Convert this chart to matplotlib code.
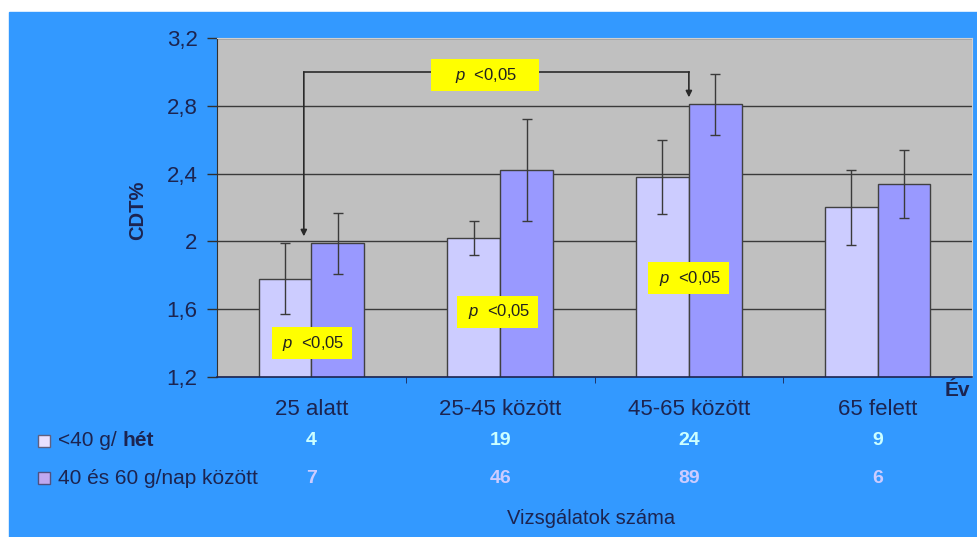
import numpy as np
import matplotlib.pyplot as plt
from matplotlib.patches import Rectangle

plt.rcParams['font.family'] = ['Liberation Sans', 'DejaVu Sans']
plt.rcParams['mathtext.fontset'] = 'custom'
plt.rcParams['mathtext.it'] = 'Liberation Sans:italic'
plt.rcParams['mathtext.rm'] = 'Liberation Sans'

# Data
categories = ['25 alatt', '25-45 között', '45-65 között', '65 felett']
series_names = ['<40 g/ ', '40 és 60 g/nap között']
low_mean = [1.78, 2.02, 2.38, 2.20]
low_err = [0.21, 0.10, 0.22, 0.22]
high_mean = [1.99, 2.42, 2.81, 2.34]
high_err = [0.18, 0.30, 0.18, 0.20]
low_count = [4, 19, 24, 9]
high_count = [7, 46, 89, 6]
yticks = [1.2, 1.6, 2.0, 2.4, 2.8, 3.2]
ytick_labels = ['1,2', '1,6', '2', '2,4', '2,8', '3,2']

bg_blue = '#3399FF'
navy = '#1C2450'
light_bar = '#CCCCFF'
dark_bar = '#9999FF'

fig = plt.figure(figsize=(9.77, 5.37), dpi=100, facecolor='white')
fig.patches.append(Rectangle((9 / 977, 0), 1 - 9 / 977, 525 / 537,
                             transform=fig.transFigure, color=bg_blue, zorder=-5))

ax = fig.add_axes([217 / 977, 160 / 537, 755 / 977, 339 / 537])
ax.set_zorder(2)
ax.set_facecolor('#C0C0C0')

x = np.arange(len(categories))
w = 0.28
err_kw = dict(ecolor='#3A3A3A', elinewidth=1, capsize=3.5, capthick=1)
ax.bar(x - 0.14, low_mean, w, yerr=low_err, color=light_bar, edgecolor='#404040',
       linewidth=1, error_kw=err_kw, zorder=2)
ax.bar(x + 0.14, high_mean, w, yerr=high_err, color=dark_bar, edgecolor='#404040',
       linewidth=1, error_kw=err_kw, zorder=2)

ax.set_xlim(-0.5, 3.5)
ax.set_ylim(1.2, 3.2)
ax.set_yticks(yticks)
ax.set_yticklabels(ytick_labels, fontsize=16, color=navy)
ax.yaxis.grid(True, color='#3A3A3A', linewidth=1)
ax.set_axisbelow(True)
ax.tick_params(axis='y', direction='out', length=7, width=1, color='#303030', pad=7)
ax.set_xticks([])
ax.set_xticks([0.5, 1.5, 2.5], minor=True)
ax.tick_params(axis='x', which='minor', direction='out', length=4, color=navy)
for s in ['top', 'right']:
    ax.spines[s].set_color('#D0D0D0')
ax.spines['left'].set_color('#303030')
ax.spines['bottom'].set_color(navy)
ax.spines['bottom'].set_linewidth(1.2)

# category labels and counts below the axis
tr = ax.get_xaxis_transform()
for i, c in enumerate(categories):
    ax.text(x[i], -0.097, c, transform=tr, ha='center', va='center',
            fontsize=16, color=navy, clip_on=False)
    ax.text(x[i], -0.186, str(low_count[i]), transform=tr, ha='center', va='center',
            fontsize=14, fontweight='bold', color='#CCFFFF', clip_on=False)
    ax.text(x[i], -0.298, str(high_count[i]), transform=tr, ha='center', va='center',
            fontsize=14, fontweight='bold', color='#CCCCFF', clip_on=False)
ax.text(1.48, -0.416, 'Vizsgálatok száma', transform=tr, ha='center', va='center',
        fontsize=14.5, color=navy, clip_on=False)

fig.text(957 / 977, 1 - 390 / 537, 'Év', ha='center', va='center',
         fontsize=15, fontweight='bold', color=navy)
fig.text(138 / 977, 1 - 210 / 537, 'CDT%', ha='center', va='center', rotation=90,
         fontsize=14.5, fontweight='bold', color=navy)

# legend rows
for yy, col, edge in [(441, '#E8E0FF', '#606080'), (478, '#C0A8F0', '#505080')]:
    fig.patches.append(Rectangle((38 / 977, 1 - (yy + 6) / 537), 12 / 977, 12 / 537,
                                 transform=fig.transFigure, facecolor=col,
                                 edgecolor=edge, linewidth=1, zorder=3))
t1 = fig.text(58 / 977, 1 - 441 / 537, series_names[0], ha='left', va='center',
              fontsize=15, color=navy)
fig.canvas.draw()
bb = t1.get_window_extent()
fig.text(bb.x1 / 977, 1 - 441 / 537, 'hét', ha='left', va='center',
         fontsize=15, fontweight='bold', color=navy)
fig.text(58 / 977, 1 - 478 / 537, series_names[1], ha='left', va='center',
         fontsize=15, color=navy)

# significance bracket
ln = '#2A2A2A'
ax.plot([-0.04, 2.0], [3.0, 3.0], color=ln, lw=1.2, zorder=4)
ax.annotate('', xy=(-0.04, 2.03), xytext=(-0.04, 3.0),
            arrowprops=dict(arrowstyle='-|>', color=ln, lw=1.2,
                            mutation_scale=9, shrinkA=0, shrinkB=0), zorder=4)
ax.annotate('', xy=(2.0, 2.85), xytext=(2.0, 3.0),
            arrowprops=dict(arrowstyle='-|>', color=ln, lw=1.2,
                            mutation_scale=9, shrinkA=0, shrinkB=0), zorder=4)

box = dict(boxstyle='square,pad=0.4', fc='#FFFF00', ec='none')
ax.text(0.918, 2.98, '    $p$  <0,05    ', ha='center', va='center', fontsize=12,
        color='#202020', bbox=box, zorder=5)
for bx, by in [(0.003, 1.40), (0.987, 1.584), (1.997, 1.784)]:
    ax.text(bx, by, ' $p$  <0,05 ', ha='center', va='center', fontsize=12,
            color='#202020', bbox=box, zorder=5)

plt.savefig('out.png', dpi=100, facecolor=fig.get_facecolor())
